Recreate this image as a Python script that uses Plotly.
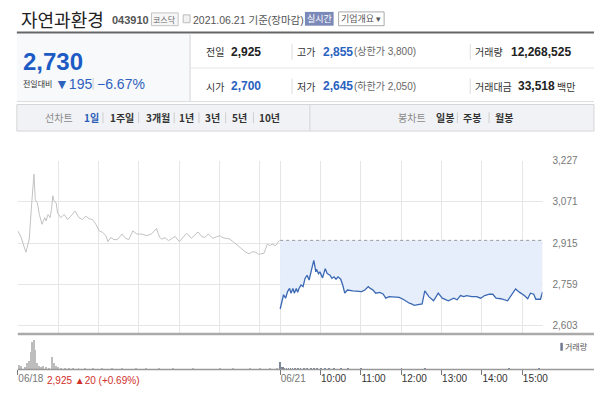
import plotly.graph_objects as go

W, H = 600, 398
FONT = "Liberation Sans, Noto Sans CJK KR, sans-serif"
KFONT = "Noto Sans CJK KR, Liberation Sans, sans-serif"

# ---------------- data ----------------
SESSION = 390  # minutes per trading session (09:00-15:30)
prev_close = 2925

# 06/18 (previous day) minutes after 09:00 and prices
prev_minutes = [0, 5, 12, 17, 20, 24, 26, 29, 32, 36, 40, 42, 45, 48, 50, 52, 54, 57, 59, 64,
                69, 74, 79, 85, 91, 96, 101, 106, 111, 116, 121, 126, 131, 134, 138, 143, 148,
                155, 160, 165, 171, 177, 184, 192, 199, 206, 211, 214, 219, 224, 229, 234, 240,
                245, 251, 258, 263, 268, 273, 278, 283, 290, 295, 300, 305, 310, 315, 320, 324,
                329, 334, 339, 344, 349, 354, 358, 361, 366, 371, 375, 378, 383, 389]
prev_prices = [2961, 2936, 2880, 2930, 3042, 3176, 3079, 3067, 3023, 2986, 3011, 2999, 3023, 3011,
               3042, 3094, 3073, 3067, 3029, 3011, 3023, 3004, 3017, 3036, 3011, 3004, 3017, 3007,
               3004, 2986, 2961, 2955, 2943, 2920, 2936, 2928, 2928, 2949, 2933, 2928, 2961, 2949,
               2949, 2943, 2950, 2970, 2936, 2930, 2935, 2924, 2932, 2940, 2920, 2935, 2952, 2933,
               2945, 2957, 2940, 2936, 2949, 2933, 2938, 2943, 2935, 2933, 2930, 2920, 2911, 2900,
               2890, 2880, 2874, 2882, 2880, 2872, 2874, 2876, 2911, 2905, 2911, 2905, 2925]

# 06/21 (today) minutes after 09:00 and prices
today_minutes = [0, 3, 5, 8, 11, 14, 16, 19, 21, 24, 26, 28, 31, 34, 37, 40, 43, 47, 50, 53, 54,
                 57, 59, 63, 67, 70, 74, 77, 80, 83, 86, 90, 93, 96, 100, 108, 121, 126, 131, 134,
                 138, 142, 148, 153, 157, 162, 170, 177, 184, 192, 196, 199, 211, 215, 221, 228,
                 235, 241, 250, 258, 263, 268, 273, 277, 285, 292, 298, 304, 311, 316, 321, 328,
                 338, 343, 350, 356, 363, 368, 372, 377, 380, 387, 390]
today_prices = [2665, 2700, 2719, 2706, 2731, 2743, 2725, 2743, 2725, 2743, 2728, 2743, 2756, 2750,
                2781, 2793, 2775, 2818, 2849, 2806, 2816, 2799, 2806, 2783, 2818, 2799, 2793, 2781,
                2787, 2778, 2787, 2778, 2756, 2725, 2737, 2734, 2731, 2737, 2750, 2743, 2737, 2725,
                2728, 2722, 2706, 2712, 2709, 2709, 2700, 2687, 2684, 2679, 2684, 2734, 2712, 2696,
                2725, 2706, 2696, 2706, 2700, 2716, 2712, 2716, 2712, 2712, 2706, 2716, 2721, 2721,
                2706, 2704, 2696, 2716, 2741, 2728, 2716, 2704, 2725, 2721, 2702, 2702, 2730]

# volumes (shares)
prev_vol_minutes = [1, 5, 10, 13, 16, 19, 21, 24, 26, 28, 31, 34, 37, 42, 46, 51, 53, 56, 59, 64,
                    70, 76, 82, 90, 100, 112, 125, 140, 155, 175, 190, 210, 230, 260, 300, 320,
                    345, 360, 375, 385]
prev_vol = [50000, 40000, 30000, 67000, 83000, 180000, 280000, 300000, 200000, 67000, 40000,
            30000, 33000, 30000, 20000, 127000, 67000, 33000, 27000, 20000, 15000, 18000, 12000,
            15000, 10000, 12000, 10000, 8000, 12000, 8000, 10000, 6000, 8000, 6000, 8000, 10000,
            6000, 8000, 6000, 10000]
today_vol_minutes = [0, 2, 4, 6, 9, 12, 15, 18, 22, 26, 30, 35, 40, 45, 50, 55, 60, 66, 72, 80,
                     90, 100, 120, 150, 180, 215, 240, 270, 300, 340, 355, 370, 385]
today_vol = [80000, 30000, 25000, 20000, 20000, 15000, 15000, 12000, 12000, 10000, 10000, 12000,
             10000, 15000, 20000, 12000, 15000, 10000, 8000, 10000, 6000, 8000, 6000, 5000, 6000,
             8000, 5000, 5000, 5000, 6000, 5000, 5000, 8000]

y_ticks = [2603, 2759, 2915, 3071, 3227]
y_tick_labels = ["2,603", "2,759", "2,915", "3,071", "3,227"]
grid_minutes = [0, 60, 120, 180, 240, 300, 360, 390, 450, 510, 570, 630, 690, 750]
x_tick_minutes = [0, 390, 450, 510, 570, 630, 690, 750]
x_tick_labels = ["06/18", "06/21", "10:00", "11:00", "12:00", "13:00", "14:00", "15:00"]

# ---------------- figure ----------------
today_x = [SESSION + m for m in today_minutes]
today_vx = [SESSION + m for m in today_vol_minutes]
x_tick_text = [f"<span style='color:#777'>{t}</span>" if "/" in t else t for t in x_tick_labels]

fig = go.Figure()
fig.add_trace(go.Scatter(x=prev_minutes, y=prev_prices, mode="lines",
                         line=dict(color="#c2c2c2", width=1), hoverinfo="skip",
                         xaxis="x", yaxis="y"))
fig.add_trace(go.Scatter(x=[SESSION, 2 * SESSION], y=[prev_close, prev_close], mode="lines",
                         line=dict(color="#9a9a9a", width=1, dash="dot"), hoverinfo="skip",
                         xaxis="x", yaxis="y"))
fig.add_trace(go.Scatter(x=today_x, y=today_prices, mode="lines",
                         line=dict(color="#3a68b4", width=1.3), fill="tonexty",
                         fillcolor="#e5eefa", hoverinfo="skip",
                         xaxis="x", yaxis="y"))
fig.add_trace(go.Bar(x=prev_vol_minutes, y=prev_vol, width=1.2, marker=dict(color="#bdbdbd", line=dict(width=0)),
                     hoverinfo="skip", xaxis="x2", yaxis="y2"))
fig.add_trace(go.Bar(x=today_vx, y=today_vol, width=1.2, marker=dict(color="#7d879a", line=dict(width=0)),
                     hoverinfo="skip", xaxis="x2", yaxis="y2"))


def px(x):
    return x / W


def py(y):
    return 1 - y / H


xdom = [px(18), px(548)]
fig.update_layout(
    width=W, height=H, margin=dict(l=0, r=0, t=0, b=0),
    paper_bgcolor="white", plot_bgcolor="rgba(0,0,0,0)", showlegend=False,
    bargap=0, hovermode=False,
    xaxis=dict(domain=xdom, range=[0, 2 * SESSION], tickvals=grid_minutes, showticklabels=False,
               showgrid=True, gridcolor="#e6e6e6", gridwidth=1, zeroline=False, ticks="",
               fixedrange=True, anchor="y"),
    yaxis=dict(domain=[py(333), py(157)], range=[2570.5, 3227], side="right", tickvals=y_ticks,
               ticktext=y_tick_labels, showgrid=True, gridcolor="#e6e6e6", zeroline=False,
               ticks="", ticklabelstandoff=9, tickfont=dict(family=FONT, size=10, color="#777"),
               fixedrange=True, anchor="x"),
    xaxis2=dict(domain=xdom, range=[0, 2 * SESSION], tickvals=x_tick_minutes, ticktext=x_tick_text,
                showgrid=False, zeroline=False, ticks="outside", ticklen=5, tickcolor="#777",
                tickwidth=1, ticklabelposition="outside right",
                tickfont=dict(family=FONT, size=10, color="#333"), fixedrange=True, anchor="y2"),
    yaxis2=dict(domain=[py(369), py(338)], range=[0, 310000], visible=False, fixedrange=True,
                anchor="x2"),
)

shapes = []


def line(x0, y0, x1, y1, color, width=1):
    shapes.append(dict(type="line", xref="paper", yref="paper", x0=px(x0), y0=py(y0), x1=px(x1),
                       y1=py(y1), line=dict(color=color, width=width)))


def rect(x0, y0, x1, y1, fill=None, border=None, width=1):
    shapes.append(dict(type="rect", xref="paper", yref="paper", x0=px(x0), y0=py(y0), x1=px(x1),
                       y1=py(y1), fillcolor=fill or "rgba(0,0,0,0)",
                       line=dict(color=border or "rgba(0,0,0,0)", width=width if border else 0),
                       layer="below"))


def ann(x, y, text, size=11, color="#333", bold=False, anchor="left", family=FONT):
    fig.add_annotation(x=px(x), y=py(y), xref="paper", yref="paper",
                       text=f"<b>{text}</b>" if bold else text, showarrow=False,
                       xanchor=anchor, yanchor="middle", borderpad=0,
                       font=dict(size=size, color=color, family=family))


# ---- header ----
ann(20, 13, "자연과환경", size=18, color="#222", family=KFONT)
ann(112, 14, "043910", size=11, color="#555", bold=True)
rect(153, 7, 180, 20, fill="#f6f6f6", border="#c4c4c4")
ann(166.5, 13.5, "코스닥", size=8, color="#666", anchor="center", family=KFONT)
rect(185, 9, 192, 17, fill="#f2f2f2", border="#bbbbbb")
ann(194, 14, "2021.06.21 기준(장마감)", size=10.5, color="#555")
rect(308, 6, 337, 20, fill="#7b89b8")
ann(322.5, 13, "실시간", size=9, color="white", anchor="center", family=KFONT)
rect(342, 6, 388, 20, fill="white", border="#aaaaaa")
ann(365, 13, "기업개요 ▾", size=9, color="#555", anchor="center", family=KFONT)

line(17, 27, 600, 27, "#666", 2)
rect(17, 28, 192, 97, fill="#f8f9fb")
line(192, 28, 192, 97, "#d5d5d5")
line(192, 63, 600, 63, "#e6e6e6")
line(17, 97, 600, 97, "#dddddd")

ann(22, 56, "2,730", size=24, color="#1d5bc4", bold=True)
ann(22, 79, "전일대비", size=8, color="#333", family=KFONT)
ann(55, 79, "<span style='font-size:14px'>▼</span>195", size=14, color="#2f62be")
line(94, 73, 94, 85, "#cccccc")
ann(97, 79, "−6.67%", size=14, color="#2f62be")

for yy, items in [(46.5, [("전일", "2,925", "#222", ""), ("고가", "2,855", "#2a62c0", "(상한가 3,800)"),
                          ("거래량", "12,268,525", "#222", "")]),
                  (81.5, [("시가", "2,700", "#2a62c0", ""), ("저가", "2,645", "#2a62c0", "(하한가 2,050)"),
                          ("거래대금", "33,518", "#222", "백만")])]:
    (l1, v1, c1, _), (l2, v2, c2, e2), (l3, v3, c3, e3) = items
    ann(207, yy, l1, size=10, color="#333", family=KFONT)
    ann(232, yy, v1, size=12, color=c1, bold=True)
    line(295, yy - 8, 295, yy + 8, "#dddddd")
    ann(299, yy, l2, size=10, color="#333", family=KFONT)
    ann(325, yy, v2, size=12, color=c2, bold=True)
    ann(357, yy, e2, size=10, color="#666")
    line(475, yy - 8, 475, yy + 8, "#dddddd")
    ann(479, yy, l3, size=10, color="#333", family=KFONT)
    ann(515 if l3 == "거래량" else 522, yy, v3, size=12, color=c3, bold=True)
    if e3:
        ann(562, yy, e3, size=10, color="#333", family=KFONT)

# ---- tab bar ----
rect(17, 100, 600, 127, fill="#f1f2f5", border="#d6d6d6")
line(313, 100, 313, 127, "#d6d6d6")
ty = 113.5
ann(44, ty, "선차트", size=10, color="#8a8a8a", family=KFONT)
tabs = [(84, "1일", "#2a5cb8"), (110, "1주일", "#333"), (146, "3개월", "#333"), (180, "1년", "#333"),
        (206, "3년", "#333"), (233, "5년", "#333"), (261, "10년", "#333")]
for tx, label, col in tabs:
    ann(tx, ty, label, size=10, color=col, bold=True, family=KFONT)
for sx in [104, 140, 176, 201, 228, 256]:
    line(sx, 108, sx, 119, "#cfcfcf")
ann(401, ty, "봉차트", size=10, color="#8a8a8a", family=KFONT)
for tx, label in [(439, "일봉"), (467, "주봉"), (499, "월봉")]:
    ann(tx, ty, label, size=10, color="#333", bold=True, family=KFONT)
for sx in [462, 494]:
    line(sx, 108, sx, 119, "#cfcfcf")

# ---- chart decorations ----
line(18, 333, 600, 333, "#aaaaaa", 2.5)
line(18, 369, 600, 369, "#999999", 1.5)
rect(566, 342, 568.5, 350, fill="#6f7890")
ann(570, 346, "거래량", size=8, color="#555", family=KFONT)
ann(46, 380, "2,925 ▲20 (+0.69%)", size=10, color="#d0302c")

fig.update_layout(shapes=shapes)
fig.write_html("out.html", config={"displayModeBar": False},
               post_script="document.body.style.margin='0';document.body.style.padding='0';")
